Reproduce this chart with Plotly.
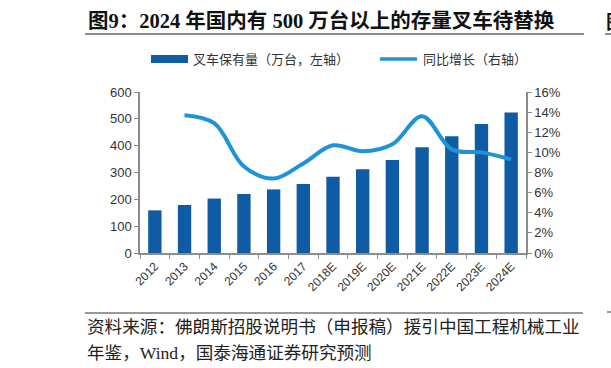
import plotly.graph_objects as go

years = ["2012", "2013", "2014", "2015", "2016", "2017", "2018E", "2019E",
         "2020E", "2021E", "2022E", "2023E", "2024E"]
stock = [159, 179, 203, 220, 237, 257, 284, 312, 347, 394, 435, 481, 524]
growth_years = years[1:]
growth = [0.137, 0.129, 0.086, 0.074, 0.089, 0.107, 0.101, 0.108, 0.136,
          0.103, 0.100, 0.093]

W, H = 611, 368
L, R, T, B = 140, 526, 92, 253

def px(x):
    return (x - L) / (R - L)

def py(y):
    return (B - y) / (B - T)

BAR = "#0F5CA4"
LINE = "#1E93D8"
AX = "#8c8c8c"
TXT = "#333333"
SANS = "Liberation Sans, Arial, sans-serif"
CJK = "Noto Sans CJK SC, sans-serif"

fig = go.Figure()
fig.add_trace(go.Bar(x=years, y=stock, marker=dict(color=BAR, line=dict(width=0)),
                     width=0.45, showlegend=False, yaxis="y"))
fig.add_trace(go.Scatter(x=growth_years, y=growth, mode="lines",
                         line=dict(color=LINE, width=4, shape="spline", smoothing=1.0),
                         showlegend=False, yaxis="y2"))

fig.update_layout(
    width=W, height=H,
    margin=dict(l=L, r=W - R, t=T, b=H - B),
    paper_bgcolor="white", plot_bgcolor="white",
    xaxis=dict(type="category", showline=True, linecolor=AX, linewidth=1.5,
               ticks="outside", tickson="boundaries", ticklen=4, tickcolor=AX,
               tickangle=-45, tickfont=dict(family=SANS, size=12, color=TXT),
               showgrid=False, zeroline=False),
    yaxis=dict(range=[0, 600], dtick=100, showline=True, linecolor=AX, linewidth=1.5,
               ticks="outside", ticklen=4, tickcolor=AX, showgrid=False, zeroline=False,
               tickfont=dict(family=SANS, size=13, color=TXT)),
    yaxis2=dict(range=[0, 0.16], dtick=0.02, tickformat=".0%", overlaying="y", side="right",
                showline=True, linecolor=AX, linewidth=1.5, ticks="outside", ticklen=4,
                tickcolor=AX, showgrid=False, zeroline=False,
                tickfont=dict(family=SANS, size=13, color=TXT)),
)

shapes = []
annos = []

# title and underline
annos.append(dict(x=px(86), y=py(21), xref="paper", yref="paper", xanchor="left", yanchor="middle",
                  text="<b>图9：2024 年国内有 500 万台以上的存量叉车待替换</b>", showarrow=False,
                  font=dict(family="Liberation Serif, Noto Sans CJK SC, serif", size=20.5, color="#111111")))
shapes.append(dict(type="line", xref="paper", yref="paper", x0=px(85), x1=px(584), y0=py(34), y1=py(34),
                   line=dict(color="#666666", width=1.5)))
# fragment of neighbouring figure at right edge
annos.append(dict(x=px(604), y=py(21), xref="paper", yref="paper", xanchor="left", yanchor="middle",
                  text="<b>图</b>", showarrow=False,
                  font=dict(family="Noto Sans CJK SC", size=19, color="#111111")))
shapes.append(dict(type="line", xref="paper", yref="paper", x0=px(605), x1=px(612), y0=py(34), y1=py(34),
                   line=dict(color="#666666", width=1.5)))

# legend
shapes.append(dict(type="rect", xref="paper", yref="paper", x0=px(151), x1=px(188), y0=py(63), y1=py(55),
                   fillcolor=BAR, line=dict(width=0)))
annos.append(dict(x=px(191), y=py(59), xref="paper", yref="paper", xanchor="left", yanchor="middle",
                  text="叉车保有量（万台，左轴）", showarrow=False,
                  font=dict(family=CJK, size=13, color=TXT)))
shapes.append(dict(type="line", xref="paper", yref="paper", x0=px(380), x1=px(417), y0=py(59), y1=py(59),
                   line=dict(color=LINE, width=3.5)))
annos.append(dict(x=px(421), y=py(59), xref="paper", yref="paper", xanchor="left", yanchor="middle",
                  text="同比增长（右轴）", showarrow=False,
                  font=dict(family=CJK, size=13, color=TXT)))

# source separator and text
shapes.append(dict(type="line", xref="paper", yref="paper", x0=px(85), x1=px(583), y0=py(313), y1=py(313),
                   line=dict(color="#777777", width=1.5)))
shapes.append(dict(type="line", xref="paper", yref="paper", x0=px(607), x1=px(612), y0=py(312), y1=py(312),
                   line=dict(color="#777777", width=1.5)))
annos.append(dict(x=px(85), y=py(327), xref="paper", yref="paper", xanchor="left", yanchor="middle",
                  text="资料来源：佛朗斯招股说明书（申报稿）援引中国工程机械工业", showarrow=False,
                  font=dict(family="Liberation Serif, Noto Sans CJK SC", size=17.6, color="#222222")))
annos.append(dict(x=px(85), y=py(353), xref="paper", yref="paper", xanchor="left", yanchor="middle",
                  text="年鉴，Wind，国泰海通证券研究预测", showarrow=False,
                  font=dict(family="Liberation Serif, Noto Sans CJK SC", size=17.6, color="#222222")))

fig.update_layout(shapes=shapes, annotations=annos)
fig.write_html("out.html")
